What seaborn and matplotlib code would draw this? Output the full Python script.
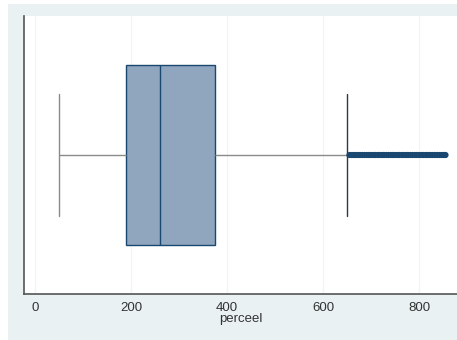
import matplotlib
matplotlib.use("Agg")
import matplotlib.pyplot as plt
import seaborn as sns
import pandas as pd
from matplotlib.patches import Rectangle

# Box summary values
core_values = [50, 190, 260, 375, 650]
# Outliers above the upper whisker (dense run forming a thick line)
outliers = [655, 660, 664, 668, 673, 677, 682, 686, 691, 695, 700, 705, 709,
            714, 718, 723, 727, 732, 736, 741, 745, 750, 755, 759, 764, 768,
            773, 777, 782, 786, 791, 795, 800, 805, 809, 814, 818, 823, 828,
            833, 838, 843, 848, 852, 855]
xticks = [0, 200, 400, 600, 800]
xlabel = "perceel"

sns.set_style("white")
plt.rcParams['font.family'] = ['Liberation Sans', 'DejaVu Sans']

fig = plt.figure(figsize=(4.57, 3.40), dpi=100, facecolor="white")
bg = Rectangle((8/457, 0), 1 - 8/457, (340-4)/340,
               transform=fig.transFigure, facecolor="#EAF1F3",
               edgecolor="none", zorder=-10)
fig.patches.append(bg)
ax = fig.add_axes([24/457, 1 - 294/340, 1 - 24/457, (294-16)/340])
ax.set_facecolor("white")

df_core = pd.DataFrame({"perceel": core_values, "g": 0})
navy = "#1a476f"
sns.boxplot(data=df_core, x="perceel", y="g", orient="h", ax=ax,
            width=0.65, whis=1.5, fliersize=0, linewidth=1.0,
            color="#8FA6BE", linecolor=navy,
            whiskerprops=dict(color="#8a8a8a", linewidth=1.0),
            capprops=dict(color="#8a8a8a", linewidth=1.0),
            capwidths=0.44, saturation=1)

df_out = pd.DataFrame({"perceel": outliers, "g": [0]*len(outliers)})
ax.scatter(df_out["perceel"], df_out["g"], s=20, color=navy, edgecolors="none",
           zorder=5)

# darker upper cap
for ln in ax.lines:
    xd = list(ln.get_xdata())
    if len(xd) == 2 and xd[0] == xd[1] == 650:
        ln.set_color("#2b3a4a")

ax.set_xlim(-22.9, 879)
ax.set_ylim(0.5, -0.5)
ax.set_yticks([])
ax.set_ylabel("")
ax.set_xticks(xticks)
ax.set_xticklabels([str(t) for t in xticks], fontsize=9.5, color="#333333")
ax.set_xlabel(xlabel, fontsize=9.5, color="#333333", labelpad=-1)
ax.tick_params(axis="x", length=4, width=1, color="#555555", pad=2, direction="out")
ax.grid(axis="x", color="#F1F5F6", linewidth=1)
ax.set_axisbelow(True)
for s in ["top", "right"]:
    ax.spines[s].set_visible(False)
for s in ["left", "bottom"]:
    ax.spines[s].set_color("#555555")
    ax.spines[s].set_linewidth(1.2)

fig.savefig("out.png", dpi=100, facecolor="white")
